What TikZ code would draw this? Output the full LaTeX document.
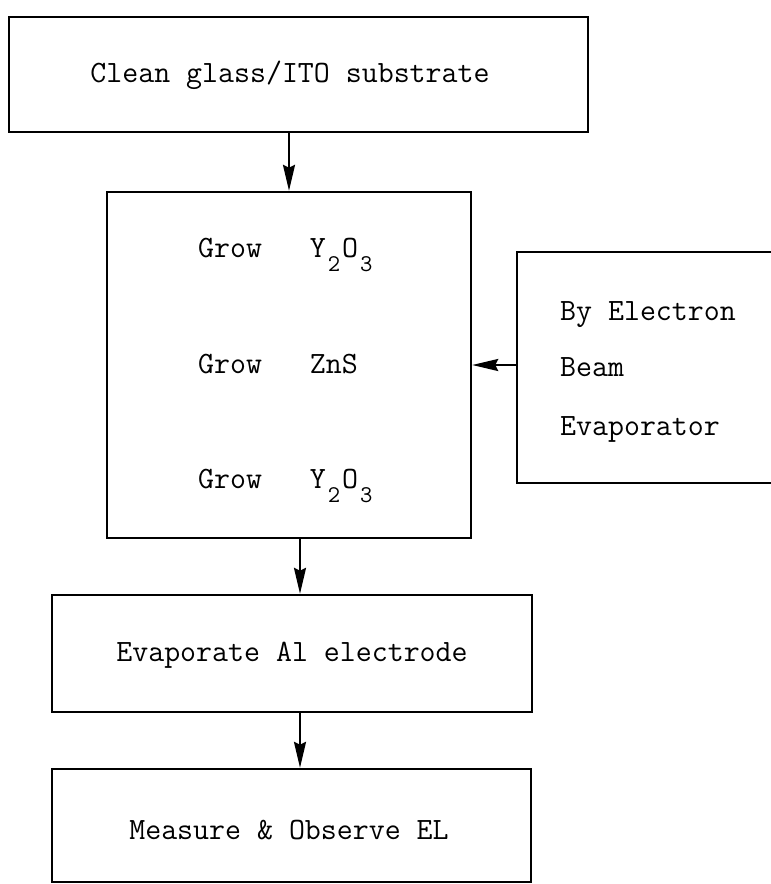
\documentclass[tikz,border=0pt]{standalone}
\usetikzlibrary{arrows.meta}
\newcommand{\subdig}[1]{\makebox[0.525em]{\raisebox{-14pt}{\fontsize{24}{24}\selectfont #1}}}
\begin{document}
\begin{tikzpicture}[x=1pt,y=-1pt,
  boxstyle/.style={draw, line width=2.4pt, rectangle, inner sep=0pt},
  txt/.style={font=\fontsize{31}{37}\selectfont\ttfamily, inner sep=0pt},
  arr/.style={line width=2.4pt, -{Stealth[length=26pt,width=12pt,inset=3pt]}}]
\useasboundingbox (0,0) rectangle (771,884);
\clip (0,0) rectangle (771,884);
\fill[white] (0,0) rectangle (771,884);
% boxes
\node[boxstyle, minimum width=579pt, minimum height=115pt] (box1) at (298.5,74.5) {};
\node[txt] (t1) at (290,75) {Clean glass/ITO substrate};
\node[boxstyle, minimum width=364pt, minimum height=346pt] (box2) at (289,365) {};
\node[boxstyle, minimum width=273pt, minimum height=231pt] (rb) at (653.5,367.5) {};
\node[boxstyle, minimum width=480pt, minimum height=117pt] (evap) at (292,653.5) {};
\node[boxstyle, minimum width=479pt, minimum height=113pt] (meas) at (291.5,825.5) {};
% texts
\node[txt, anchor=base west] (g1) at (198,257) {Grow~~~Y\subdig{2}O\subdig{3}};
\node[txt, anchor=base west] (g2) at (198,373) {Grow~~~ZnS};
\node[txt, anchor=base west] (g3) at (198,488) {Grow~~~Y\subdig{2}O\subdig{3}};
\node[txt, anchor=base west] (r1) at (560,320) {By Electron};
\node[txt, anchor=base west] (r2) at (560,376) {Beam};
\node[txt, anchor=base west] (r3) at (560,435) {Evaporator};
\node[txt] (t4) at (292,655) {Evaporate Al electrode};
\node[txt] (t5) at (289,830) {Measure \& Observe EL};
% arrows
\draw[arr] (box2.north |- box1.south) -- (box2.north);
\draw[arr] (rb.west |- box2.east) -- (box2.east);
\draw[arr] ([xshift=11pt]box2.south) -- ([xshift=11pt]box2.south |- evap.north);
\draw[arr] ([xshift=8pt]evap.south) -- ([xshift=8pt]evap.south |- meas.north);
\end{tikzpicture}
\end{document}
